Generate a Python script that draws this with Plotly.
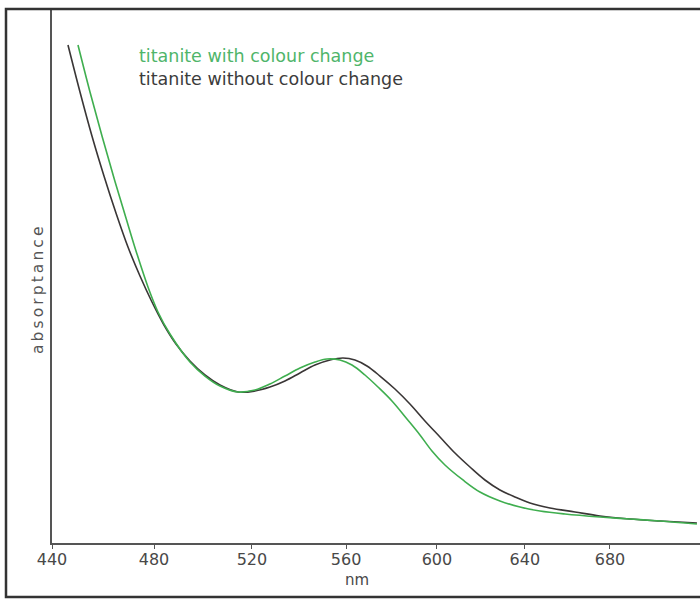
import numpy as np
import plotly.graph_objects as go

# wavelength (nm) and absorptance (arbitrary units, 0-100)
nm_without = [446.15, 450.80, 455.46, 460.16, 464.88, 469.62, 474.39, 479.18, 483.99, 488.83,
              494.50, 500.62, 506.77, 514.21, 521.28, 527.56, 533.88, 540.23, 546.63, 553.06,
              558.66, 563.86, 569.08, 574.76, 581.35, 587.98, 594.65, 601.36, 608.10, 614.88,
              621.70, 628.56, 635.45, 642.38, 651.68, 663.40, 675.23, 689.55, 704.03, 722.09]
abs_without = [93.26, 84.46, 76.22, 68.73, 61.80, 55.43, 50.00, 45.13, 40.82, 37.27,
               34.08, 31.46, 29.59, 28.28, 28.47, 29.21, 30.34, 31.84, 33.33, 34.27,
               34.64, 34.27, 33.15, 31.27, 28.84, 26.03, 22.85, 19.85, 16.85, 14.23,
               11.80, 9.93, 8.61, 7.49, 6.55, 5.81, 5.06, 4.49, 4.12, 3.75]

nm_with = [450.02, 454.69, 459.38, 464.09, 468.83, 473.19, 477.58, 481.58, 486.41, 494.50,
           500.62, 506.77, 514.21, 521.28, 527.56, 533.88, 540.23, 546.63, 551.77, 557.36,
           562.56, 568.21, 573.88, 580.03, 586.66, 592.43, 597.78, 603.60, 611.71, 619.42,
           628.56, 637.76, 647.03, 658.70, 675.23, 689.55, 704.03, 722.09]
abs_with = [93.26, 84.46, 76.22, 68.35, 60.86, 54.12, 47.94, 43.26, 39.14, 33.90,
            31.27, 29.40, 28.28, 28.65, 29.78, 31.27, 32.77, 33.90, 34.46, 34.27,
            33.33, 31.46, 29.21, 26.59, 23.22, 20.23, 17.23, 14.61, 11.80, 9.55,
            7.87, 6.74, 5.99, 5.43, 4.87, 4.49, 4.12, 3.56]

tick_nm = [440, 480, 520, 560, 600, 640, 680]
tick_labels = ["440", "480", "520", "560", "600", "640", "680"]
x_range_nm = [440, 723.6]
y_range = [0, 100]

series_names = ["titanite with colour change", "titanite without colour change"]
x_title = "nm"
y_title = "absorptance"
green = "#3fae4f"
dark = "#3a3636"

# the printed wavelength scale is compressed towards long wavelengths (~ sqrt scale)
def tx(v):
    return np.sqrt(np.asarray(v, dtype=float))

fig = go.Figure()
fig.add_trace(go.Scatter(x=tx(nm_without), y=abs_without, mode="lines",
                         line=dict(color=dark, width=1.6, shape="spline", smoothing=1.0),
                         name=series_names[1], hoverinfo="skip"))
fig.add_trace(go.Scatter(x=tx(nm_with), y=abs_with, mode="lines",
                         line=dict(color=green, width=1.6, shape="spline", smoothing=1.0),
                         name=series_names[0], hoverinfo="skip"))

W, H = 700, 599
ml, mr, mt, mb = 52, 0, 9, 56
pw, ph = W - ml - mr, H - mt - mb

def px2paper_x(px):
    return (px - ml) / pw

def py2paper_y(py):
    return (H - mb - py) / ph

FONT = "DejaVu Sans, Verdana, sans-serif"

fig.update_layout(
    width=W, height=H,
    margin=dict(l=ml, r=mr, t=mt, b=mb, pad=0),
    paper_bgcolor="white", plot_bgcolor="white",
    showlegend=False,
    font=dict(family=FONT, color="#444"),
    xaxis=dict(
        range=list(tx(x_range_nm)), showgrid=False, zeroline=False,
        showline=True, linecolor="#555", linewidth=1.5,
        tickmode="array", tickvals=list(tx(tick_nm)), ticktext=tick_labels,
        ticks="outside", ticklen=4, tickcolor="#555", tickwidth=1,
        tickfont=dict(size=16, color="#484848"),
        ticklabelstandoff=-3,
    ),
    yaxis=dict(
        range=y_range, showgrid=False, zeroline=False,
        showline=True, linecolor="#555", linewidth=1.5,
        showticklabels=False, ticks="",
    ),
    annotations=[
        dict(text=series_names[0], xref="paper", yref="paper",
             x=px2paper_x(137), y=py2paper_y(56), xanchor="left", yanchor="middle",
             showarrow=False, font=dict(size=17.5, color="#4fb56a")),
        dict(text=series_names[1], xref="paper", yref="paper",
             x=px2paper_x(137), y=py2paper_y(79), xanchor="left", yanchor="middle",
             showarrow=False, font=dict(size=17.5, color="#3c3c3c")),
        dict(text=x_title, xref="paper", yref="paper",
             x=px2paper_x(357), y=py2paper_y(580), xanchor="center", yanchor="middle",
             showarrow=False, font=dict(size=15, color="#484848")),
        dict(text="\u2009".join(y_title), xref="paper", yref="paper",
             x=px2paper_x(38), y=py2paper_y(290), xanchor="center", yanchor="middle",
             textangle=-90, showarrow=False, font=dict(size=15.5, color="#555")),
    ],
    shapes=[
        dict(type="rect", xref="paper", yref="paper",
             x0=px2paper_x(6), x1=px2paper_x(720), y0=py2paper_y(597), y1=py2paper_y(9),
             line=dict(color="#333", width=2.5), layer="above"),
    ],
)

fig.write_html("out.html", config={"displayModeBar": False})
with open("out.html", "r", encoding="utf-8") as f:
    html = f.read()
html = html.replace("<body>", '<body style="margin:0;padding:0;overflow:hidden">', 1)
with open("out.html", "w", encoding="utf-8") as f:
    f.write(html)
